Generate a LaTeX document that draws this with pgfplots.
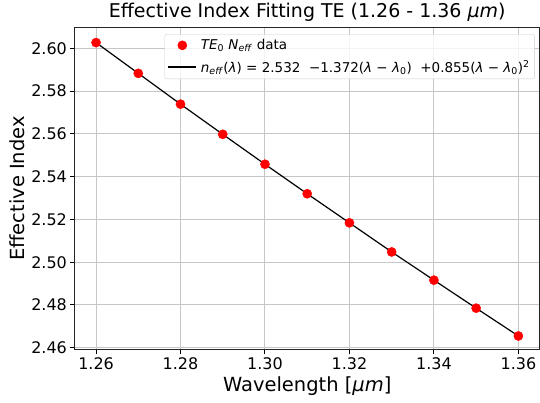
\documentclass[border=0pt]{standalone}
\usepackage{pgfplots}
\pgfplotsset{compat=1.18}
\usepackage{fontspec}
\setmainfont{DejaVu Sans}
\pgfplotsset{
  legdot/.style={legend image code/.code={\draw[##1, fill opacity=1, draw opacity=1] plot coordinates {(14bp,0bp)};}},
  legline/.style={legend image code/.code={\draw[##1, draw opacity=1] (0bp,0bp) -- (28bp,0bp);}},
}
\begin{document}
\begin{tikzpicture}
\begin{axis}[
  scale only axis,
  width=465bp, height=323bp,
  xmin=1.255, xmax=1.365,
  ymin=2.459, ymax=2.6099,
  xtick={1.26,1.28,...,1.361},
  ytick={2.46,2.48,...,2.601},
  xticklabel style={/pgf/number format/.cd,fixed,fixed zerofill,precision=2},
  yticklabel style={/pgf/number format/.cd,fixed,fixed zerofill,precision=2},
  /pgf/number format/assume math mode=true,
  tick label style={font=\fontsize{16bp}{19bp}\selectfont},
  tick align=outside,
  xtick pos=bottom, ytick pos=left,
  major tick length=4.5bp,
  tick style={black, line width=1bp},
  grid=major,
  grid style={gray!45, line width=1bp},
  axis line style={line width=1bp, black!85},
  title={Effective Index Fitting TE (1.26 - 1.36 \textit{μm})},
  title style={font=\fontsize{19bp}{23bp}\selectfont, yshift=-4bp},
  xlabel={Wavelength [\textit{μm}]},
  ylabel={Effective Index},
  label style={font=\fontsize{19.5bp}{23bp}\selectfont},
  legend style={at={(0.99,0.978)}, anchor=north east, draw=gray!40, rounded corners=2bp, fill=white, fill opacity=0.8, text opacity=1, font=\fontsize{13.5bp}{16bp}\selectfont, row sep=5bp, inner sep=3bp, column sep=2bp},
  legend cell align=left,
]
\addplot[only marks, mark=*, mark size=4.6bp, color=red, mark options={draw=red, fill=red}, legdot] coordinates {
(1.26,2.6027) (1.27,2.5883) (1.28,2.5739) (1.29,2.5598) (1.30,2.5458) (1.31,2.5320)
(1.32,2.5184) (1.33,2.5048) (1.34,2.4916) (1.35,2.4785) (1.36,2.4655)
};
\addlegendentry{\textit{TE}\textsubscript{0} \textit{N}\textsubscript{\textit{eff}} data}
\addplot[black, line width=1.2bp, legline] coordinates {
(1.26,2.6027) (1.27,2.5883) (1.28,2.5739) (1.29,2.5598) (1.30,2.5458) (1.31,2.5320)
(1.32,2.5184) (1.33,2.5048) (1.34,2.4916) (1.35,2.4785) (1.36,2.4655)
};
\addlegendentry{\textit{n}\textsubscript{\textit{eff}}(\textit{λ}) = 2.532 \ −1.372(\textit{λ} − \textit{λ}\textsubscript{0}) \ +0.855(\textit{λ} − \textit{λ}\textsubscript{0})\textsuperscript{2}}
\end{axis}
\path[use as bounding box] (current axis.south west) ++(-75bp,-53bp) rectangle ++(540bp,402bp);
\end{tikzpicture}
\end{document}
